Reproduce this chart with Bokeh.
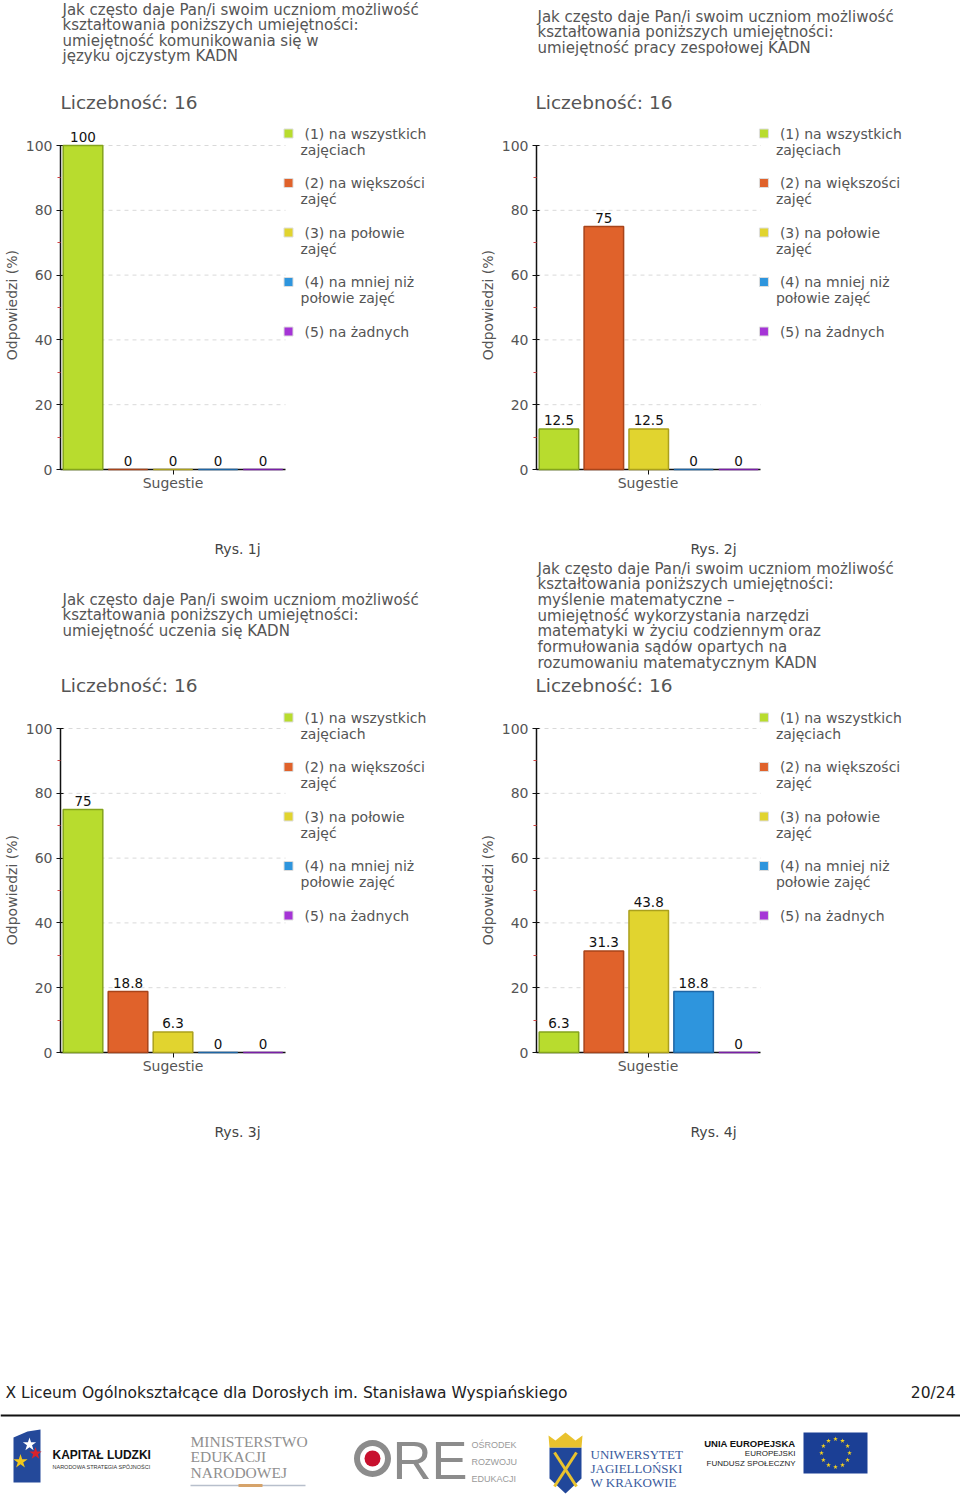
import numpy as np
from bokeh.plotting import figure
from bokeh.layouts import column, row
from bokeh.models import Range1d, FixedTicker, ColumnDataSource
from bokeh.embed import file_html
from bokeh.resources import INLINE
from bokeh.core.properties import value

# ---------------- data ----------------
legend_lines = [
    ["(1) na wszystkich", "zajęciach"],
    ["(2) na większości", "zajęć"],
    ["(3) na połowie", "zajęć"],
    ["(4) na mniej niż", "połowie zajęć"],
    ["(5) na żadnych"],
]
values_rys1 = [100, 0, 0, 0, 0]
values_rys2 = [12.5, 75, 12.5, 0, 0]
values_rys3 = [75, 18.8, 6.3, 0, 0]
values_rys4 = [6.3, 31.3, 43.8, 18.8, 0]

y_ticks = [0, 20, 40, 60, 80, 100]
y_minor_ticks = [10, 30, 50, 70, 90]
grid_levels = [20, 40, 60, 80, 100]

question_head = ["Jak często daje Pan/i swoim uczniom możliwość",
                 "kształtowania poniższych umiejętności:"]
title_rys1 = question_head + ["umiejętność komunikowania się w", "języku ojczystym KADN"]
title_rys2 = question_head + ["umiejętność pracy zespołowej KADN"]
title_rys3 = question_head + ["umiejętność uczenia się KADN"]
title_rys4 = question_head + ["myślenie matematyczne –",
                              "umiejętność wykorzystania narzędzi",
                              "matematyki w życiu codziennym oraz",
                              "formułowania sądów opartych na",
                              "rozumowaniu matematycznym KADN"]
counts = [16, 16, 16, 16]
captions = ["Rys. 1j", "Rys. 2j", "Rys. 3j", "Rys. 4j"]
x_axis_label = "Sugestie"
y_axis_label = "Odpowiedzi (%)"
footer_text = "X Liceum Ogólnokształcące dla Dorosłych im. Stanisława Wyspiańskiego"
page_label = "20/24"

fill_colors = ["#B8DC2E", "#E0622B", "#E1D42F", "#2E95DD", "#A534D6"]
line_colors = ["#84A41C", "#A8441A", "#ABA01D", "#1F66A5", "#7A1FA8"]

# ---------------- geometry (page px) ----------------
FONT = value("DejaVu Sans")
GRAY = "#555555"
PAGE_W = 960
FIG_X = [(0, 476), (476, 960)]
AXIS_X = [60, 535]
ROWS = [(118, 476), (705, 1059)]
AXIS_Y = [469, 1052]
FRAME_W = 410
PCT_PX = 3.24
SLOT_PX = 45.0
LEG_SQ_DX = 228
LEG_TXT_DX = 244
LEG_TXT2_DX = 240
LEG_TOP = [-12, -11]
LEG_STEP = 49.5
LEG_LINE = 16
NBSP = "\u00a0"


def make_chart(values, col, ri):
    x0, x1 = FIG_X[col]
    width = x1 - x0
    left = AXIS_X[col] - x0
    right = width - left - FRAME_W
    top, bottom = ROWS[ri]
    frame_h = AXIS_Y[ri] - top
    height = bottom - top
    p = figure(width=width, height=height,
               x_range=Range1d(0, FRAME_W / SLOT_PX),
               y_range=Range1d(0, frame_h / PCT_PX),
               output_backend="svg", toolbar_location=None,
               min_border_left=left, min_border_right=right,
               min_border_top=0, min_border_bottom=height - frame_h)
    p.outline_line_color = None
    p.grid.visible = False
    n = len(values)

    # dashed grid lines
    p.segment(x0=[0] * len(grid_levels), y0=grid_levels,
              x1=[n] * len(grid_levels), y1=grid_levels,
              line_color="#D9D9D9", line_dash="4 4", line_width=1, level="underlay")

    src = ColumnDataSource(dict(
        x=[i + 0.5 for i in range(n)], top=values,
        fill=fill_colors[:n], line=line_colors[:n],
        label=[f"{v:g}" for v in values]))
    bars = p.vbar(x="x", top="top", bottom=0, width=0.88, fill_color="fill",
                  line_color="line", line_width=1.5, source=src)
    bars.level = "overlay"
    p.text(x="x", y="top", text="label", text_align="center", text_baseline="bottom",
           y_offset=-4, text_font=FONT, text_font_size="13.5px", text_color="#111111",
           source=src)

    # legend drawn as glyphs
    ys = [100 - (LEG_TOP[ri] + LEG_STEP * i) / PCT_PX for i in range(n)]
    p.scatter(x=[LEG_SQ_DX / SLOT_PX] * n, y=ys, marker="square", size=9,
              fill_color=fill_colors[:n], line_color="#DDDDDD", line_width=1)
    p.text(x=[LEG_TXT_DX / SLOT_PX] * n, y=ys, text=[l[0] for l in legend_lines[:n]],
           text_baseline="middle", text_font=FONT, text_font_size="14px", text_color=GRAY)
    sec = [(ys[i] - LEG_LINE / PCT_PX, legend_lines[i][1]) for i in range(n) if len(legend_lines[i]) > 1]
    p.text(x=[LEG_TXT2_DX / SLOT_PX] * len(sec), y=[s[0] for s in sec], text=[s[1] for s in sec],
           text_baseline="middle", text_font=FONT, text_font_size="14px", text_color=GRAY)

    # y axis
    ya = p.yaxis[0]
    ya.ticker = FixedTicker(ticks=y_ticks, minor_ticks=y_minor_ticks)
    ya.bounds = (0, 100)
    ya.axis_label = y_axis_label + NBSP * 5
    ya.axis_label_text_font = "DejaVu Sans"
    ya.axis_label_text_font_size = "14px"
    ya.axis_label_text_font_style = "normal"
    ya.axis_label_text_color = GRAY
    ya.axis_label_standoff = 3
    ya.major_label_text_font = "DejaVu Sans"
    ya.major_label_text_font_size = "14px"
    ya.major_label_text_color = GRAY
    ya.major_label_standoff = 4
    ya.axis_line_color = "#111111"
    ya.axis_line_width = 1.5
    ya.major_tick_line_color = "#111111"
    ya.major_tick_in = 3
    ya.major_tick_out = 4
    ya.minor_tick_line_color = "#D04040"
    ya.minor_tick_in = 0
    ya.minor_tick_out = 3

    # x axis: single centred tick mark, no labels (label drawn below as text)
    xa = p.xaxis[0]
    xa.ticker = FixedTicker(ticks=[], minor_ticks=[n / 2])
    xa.bounds = (0, n)
    xa.axis_line_color = "#111111"
    xa.axis_line_width = 1.5
    xa.major_tick_out = 5
    xa.major_tick_in = 0
    xa.major_label_standoff = 0
    xa.minor_tick_line_color = "#111111"
    xa.minor_tick_in = 0
    xa.minor_tick_out = 5
    return p


def deco(top, bottom):
    p = figure(width=PAGE_W, height=bottom - top,
               x_range=Range1d(0, PAGE_W), y_range=Range1d(bottom, top),
               x_axis_type=None, y_axis_type=None,
               output_backend="svg", toolbar_location=None, min_border=0)
    p.outline_line_color = None
    return p


def put_lines(p, x, y0, lines, step=15.6, size="15px", color=GRAY):
    p.text(x=[x] * len(lines), y=[y0 + step * i for i in range(len(lines))], text=lines,
           text_baseline="middle", text_font=FONT, text_font_size=size, text_color=color)


def put_xlabels(p, y):
    p.text(x=[AXIS_X[0] + 2.5 * SLOT_PX, AXIS_X[1] + 2.5 * SLOT_PX], y=[y, y],
           text=[x_axis_label] * 2, text_align="center", text_baseline="middle",
           text_font=FONT, text_font_size="14px", text_color=GRAY)


# header
head = deco(0, 118)
put_lines(head, 62, 9, title_rys1)
put_lines(head, 537, 16, title_rys2)
head.text(x=[60, 535], y=[102, 102], text=[f"Liczebność: {c}" for c in counts[:2]],
          text_baseline="middle", text_font=FONT, text_font_size="18.5px", text_color=GRAY)

# middle
mid = deco(476, 705)
put_xlabels(mid, 482)
mid.text(x=[237, 713], y=[548, 548], text=captions[:2], text_align="center",
         text_baseline="middle", text_font=FONT, text_font_size="14px", text_color="#444444")
put_lines(mid, 62, 599, title_rys3)
put_lines(mid, 537, 568, title_rys4, step=15.7)
mid.text(x=[60, 535], y=[685, 685], text=[f"Liczebność: {c}" for c in counts[2:]],
         text_baseline="middle", text_font=FONT, text_font_size="18.5px", text_color=GRAY)

# footer
foot = deco(1059, 1503)
put_xlabels(foot, 1065)
foot.text(x=[237, 713], y=[1131, 1131], text=captions[2:], text_align="center",
          text_baseline="middle", text_font=FONT, text_font_size="14px", text_color="#444444")
foot.text(x=[5], y=[1392], text=[footer_text], text_baseline="middle", text_font=FONT,
          text_font_size="15.5px", text_color="#222222")
foot.text(x=[955], y=[1392], text=[page_label], text_align="right", text_baseline="middle",
          text_font=FONT, text_font_size="15.5px", text_color="#222222")
foot.segment(x0=[0], y0=[1415], x1=[960], y1=[1415], line_color="#111111", line_width=2)

SANS = value("Liberation Sans")
SERIF = value("Liberation Serif")
# logo: Kapitał Ludzki
foot.patch(x=[13, 27, 40, 40, 13], y=[1437, 1431, 1429, 1482, 1482], fill_color="#24499A", line_color=None)
foot.scatter(x=[29, 35, 20], y=[1444, 1453, 1461], marker="star", size=[14, 13, 15],
             fill_color=["#FFFFFF", "#D8232A", "#F2C81C"], line_color=None)
foot.text(x=[52], y=[1454], text=["KAPITAŁ LUDZKI"], text_baseline="middle",
          text_font=SANS, text_font_size="12px", text_font_style="bold", text_color="#111111")
foot.text(x=[52], y=[1466], text=["NARODOWA STRATEGIA SPÓJNOŚCI"], text_baseline="middle",
          text_font=SANS, text_font_size="5.5px", text_color="#333333")
# logo: MEN
foot.text(x=[190] * 3, y=[1441, 1456, 1472], text=["MINISTERSTWO", "EDUKACJI", "NARODOWEJ"],
          text_baseline="middle", text_font=SERIF, text_font_size="15.5px", text_color="#8F8F8F")
foot.segment(x0=[190], y0=[1485], x1=[305], y1=[1485], line_color="#B7BFCC", line_width=1.5)
foot.segment(x0=[238], y0=[1485], x1=[262], y1=[1485], line_color="#D6A36A", line_width=3)
# logo: ORE
foot.annulus(x=[372], y=[1458], inner_radius=12.5, outer_radius=18.5, fill_color="#8C8C8C", line_color=None)
foot.circle(x=[372], y=[1458], radius=8, fill_color="#C8102E", line_color=None)
foot.text(x=[392], y=[1459], text=["RE"], text_baseline="middle",
          text_font=SANS, text_font_size="54px", text_color="#8C8C8C")
foot.text(x=[471] * 3, y=[1444, 1461, 1478], text=["OŚRODEK", "ROZWOJU", "EDUKACJI"],
          text_baseline="middle", text_font=SANS, text_font_size="9px", text_color="#9A9A9A")
# logo: UJ
foot.patch(x=[549, 581, 581, 565, 549], y=[1447, 1447, 1478, 1493, 1478], fill_color="#21479A", line_color=None)
foot.segment(x0=[554, 576], y0=[1452, 1452], x1=[576, 554], y1=[1486, 1486], line_color="#E9C22E", line_width=3)
foot.patch(x=[549, 581, 582, 575, 565, 555, 548], y=[1447, 1447, 1435, 1440, 1432, 1440, 1435],
           fill_color="#E9C22E", line_color=None)
foot.text(x=[590] * 3, y=[1454, 1468, 1482], text=["UNIWERSYTET", "JAGIELLOŃSKI", "W KRAKOWIE"],
          text_baseline="middle", text_font=SERIF, text_font_size="13px", text_color="#3A5B9E")
# logo: EU
foot.text(x=[795], y=[1443], text=["UNIA EUROPEJSKA"], text_align="right", text_baseline="middle",
          text_font=SANS, text_font_size="9.5px", text_font_style="bold", text_color="#111111")
foot.text(x=[795, 795], y=[1453, 1463], text=["EUROPEJSKI", "FUNDUSZ SPOŁECZNY"], text_align="right",
          text_baseline="middle", text_font=SANS, text_font_size="8px", text_color="#222222")
foot.quad(left=[803], right=[867], top=[1432], bottom=[1473], fill_color="#1B3F95", line_color=None)
ang = np.linspace(0, 2 * np.pi, 13)[:-1]
foot.scatter(x=835 + 14 * np.cos(ang), y=1452.5 + 14 * np.sin(ang), marker="star", size=5,
             fill_color="#F4D11E", line_color=None)

c1 = make_chart(values_rys1, 0, 0)
c2 = make_chart(values_rys2, 1, 0)
c3 = make_chart(values_rys3, 0, 1)
c4 = make_chart(values_rys4, 1, 1)

layout = column(head, row(c1, c2, spacing=0), mid, row(c3, c4, spacing=0), foot, spacing=0)
open("out.html", "w").write(file_html(layout, INLINE))
